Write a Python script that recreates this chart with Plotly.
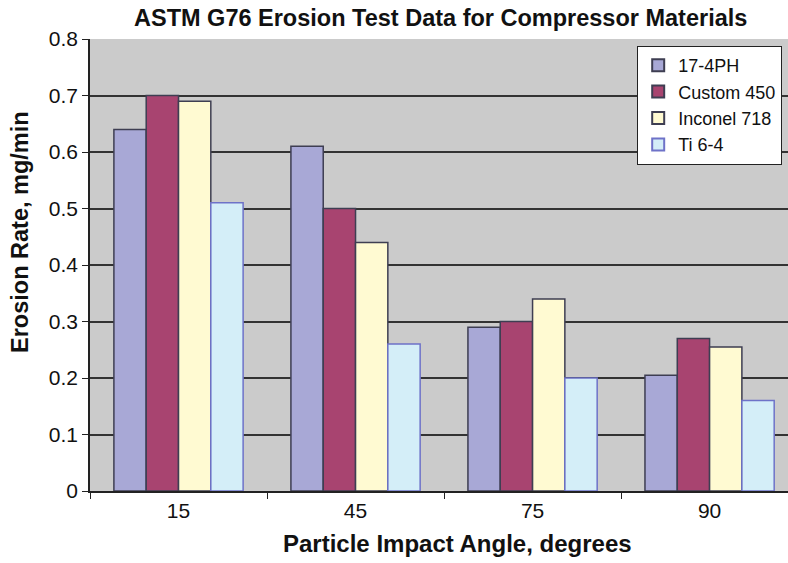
import plotly.graph_objects as go

# Particle impact angles (degrees) and erosion rates (mg/min) per material
angles = ["15", "45", "75", "90"]
ph17_4 = [0.64, 0.61, 0.29, 0.205]
custom450 = [0.70, 0.50, 0.30, 0.27]
inconel718 = [0.69, 0.44, 0.34, 0.255]
ti64 = [0.51, 0.26, 0.20, 0.16]

series = [
    ("17-4PH", ph17_4, "#A8A8D6", "#3E3E52"),
    ("Custom 450", custom450, "#A84470", "#3E3E52"),
    ("Inconel 718", inconel718, "#FFFAD2", "#3E3E52"),
    ("Ti 6-4", ti64, "#D4EEF8", "#6E72C8"),
]

FONT = "Liberation Sans, Arial, sans-serif"

fig = go.Figure()
for name, vals, fill, edge in series:
    fig.add_trace(go.Bar(
        x=angles, y=vals, name=name,
        marker=dict(color=fill, line=dict(color=edge, width=1.5)),
    ))

# Chart and axis titles placed as paper-anchored annotations
titles = [
    dict(text="<b>ASTM G76 Erosion Test Data for Compressor Materials</b>",
         x=440, y=18, size=23.5, angle=0),
    dict(text="<b>Particle Impact Angle, degrees</b>",
         x=458, y=543, size=24, angle=0),
    dict(text="<b>Erosion Rate, mg/min</b>",
         x=20, y=232, size=23.5, angle=-90),
]
W, H = 788, 563
L, R, T, B = 90, 0, 39, 72
annotations = []
for t in titles:
    annotations.append(dict(
        text=t["text"], textangle=t["angle"],
        xref="paper", yref="paper",
        x=(t["x"] - L) / (W - L - R), y=(H - B - t["y"]) / (H - T - B),
        xanchor="center", yanchor="middle", showarrow=False,
        font=dict(family=FONT, size=t["size"], color="#111"),
    ))

fig.update_layout(
    width=W, height=H,
    margin=dict(l=L, r=R, t=T, b=B),
    paper_bgcolor="white",
    plot_bgcolor="#CBCBCB",
    barmode="group",
    bargap=0.27,
    bargroupgap=0,
    font=dict(family=FONT, color="#111"),
    annotations=annotations,
    xaxis=dict(
        type="category",
        range=[-0.5, 3.443],
        tickson="boundaries",
        ticks="outside", ticklen=6, tickcolor="#222", tickwidth=1.2,
        showline=True, linecolor="#222", linewidth=1.5,
        showgrid=False,
        tickfont=dict(size=21),
    ),
    yaxis=dict(
        range=[0, 0.8],
        dtick=0.1,
        tickformat="~g",
        ticks="outside", ticklen=6, tickcolor="#222", tickwidth=1.2,
        showline=True, linecolor="#222", linewidth=1.5,
        showgrid=True, gridcolor="#333", gridwidth=1.5,
        zeroline=False,
        tickfont=dict(size=21),
    ),
    legend=dict(
        x=0.9914, xanchor="right", y=0.985, yanchor="top",
        bgcolor="white", bordercolor="#222", borderwidth=1.2,
        font=dict(size=18, family=FONT),
        tracegroupgap=0, itemsizing="constant",
    ),
    showlegend=True,
)

fig.write_html("out.html")
